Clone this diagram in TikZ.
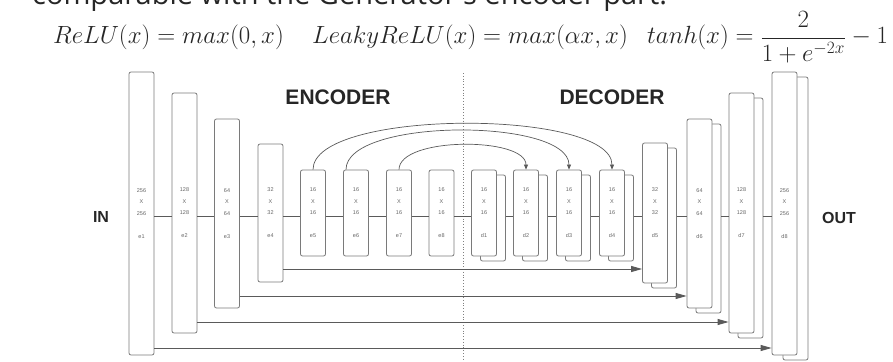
\documentclass[tikz,border=0pt]{standalone}
\usepackage{fontspec}
\setsansfont{Liberation Sans}
\newfontfamily\hdrfont{Open Sans}
\usetikzlibrary{arrows.meta,calc}
\definecolor{boxgray}{HTML}{7A7A7A}
\definecolor{linegray}{HTML}{5A5A5A}
\definecolor{txtgray}{HTML}{666666}
\tikzset{
  blk/.style={draw=boxgray, line width=0.8pt, rounded corners=2pt, fill=white,
    minimum width=25pt, inner sep=0pt, align=center,
    font=\sffamily\fontsize{5.5}{11.5}\selectfont, text=txtgray},
  shadowblk/.style={draw=boxgray, line width=0.8pt, rounded corners=2pt, fill=white,
    minimum width=25pt, inner sep=0pt},
  chainln/.style={draw=linegray, line width=0.8pt},
  skipln/.style={draw=linegray, line width=0.9pt, -{Triangle[length=11pt,width=6pt]}},
  arcln/.style={draw=linegray, line width=0.7pt, -{Triangle[length=5pt,width=4pt]}},
  ttl/.style={font=\sffamily\bfseries\fontsize{21}{21}\selectfont, text=black!85, inner sep=0pt},
  iolbl/.style={font=\sffamily\bfseries\fontsize{16}{16}\selectfont, text=black!85, inner sep=0pt},
  fml/.style={anchor=base west, inner sep=0pt, font=\fontsize{25}{25}\selectfont, text=black!85},
}
\begin{document}
\begin{tikzpicture}[x=1pt,y=-1pt]
\useasboundingbox (0,0) rectangle (893,361);
\clip (0,0) rectangle (893,361);
% header text (cut at the top)
\node[anchor=base west, inner sep=0pt, font=\hdrfont\fontsize{29}{29}\selectfont, text=black!85] (hdr) at (32,5) {comparable with the Generator's encoder part.};
% formulas
\node[fml] (f1) at (53,44) {$ReLU(x)=max(0,x)$};
\node[fml] (f2) at (312,44) {$LeakyReLU(x)=max(\alpha x,x)$};
\node[fml] (f3) at (647,44) {$\displaystyle tanh(x)=\frac{2}{1+e^{-2x}}-1$};
% dotted divider
\draw[dotted, line width=0.8pt, draw=gray] (463,73) -- (463,361);
% titles
\node[ttl] (enc) at (338,97) {ENCODER};
\node[ttl] (dec) at (612,97) {DECODER};
\node[iolbl] (in) at (101,217) {IN};
\node[iolbl] (out) at (839,218) {OUT};
% encoder blocks
\node[blk, minimum height=283pt] (e1) at (141.5,213.5) {256\\X\\256\\[11.5pt]e1};
\node[blk, minimum height=240pt] (e2) at (184.5,213) {128\\X\\128\\[11.5pt]e2};
\node[blk, minimum height=189pt] (e3) at (227,213.5) {64\\X\\64\\[11.5pt]e3};
\node[blk, minimum height=138pt] (e4) at (270.5,213) {32\\X\\32\\[11.5pt]e4};
\node[blk, minimum height=86pt] (e5) at (313,213) {16\\X\\16\\[11.5pt]e5};
\node[blk, minimum height=86pt] (e6) at (356,213) {16\\X\\16\\[11.5pt]e6};
\node[blk, minimum height=86pt] (e7) at (399,213) {16\\X\\16\\[11.5pt]e7};
\node[blk, minimum height=86pt] (e8) at (441.5,213) {16\\X\\16\\[11.5pt]e8};
% decoder blocks (shadow then front)
\node[shadowblk, minimum height=86pt] (d1s) at (493,218) {};
\node[blk, minimum height=86pt] (d1) at (484,213) {16\\X\\16\\[11.5pt]d1};
\node[shadowblk, minimum height=86pt] (d2s) at (535,218) {};
\node[blk, minimum height=86pt] (d2) at (526,213) {16\\X\\16\\[11.5pt]d2};
\node[shadowblk, minimum height=86pt] (d3s) at (578,218) {};
\node[blk, minimum height=86pt] (d3) at (569,213) {16\\X\\16\\[11.5pt]d3};
\node[shadowblk, minimum height=86pt] (d4s) at (621,218) {};
\node[blk, minimum height=86pt] (d4) at (612,213) {16\\X\\16\\[11.5pt]d4};
\node[shadowblk, minimum height=140pt] (d5s) at (664,218) {};
\node[blk, minimum height=140pt] (d5) at (655,213) {32\\X\\32\\[11.5pt]d5};
\node[shadowblk, minimum height=189pt] (d6s) at (708.5,218.5) {};
\node[blk, minimum height=189pt] (d6) at (699.5,213.5) {64\\X\\64\\[11.5pt]d6};
\node[shadowblk, minimum height=240pt] (d7s) at (750.5,218) {};
\node[blk, minimum height=240pt] (d7) at (741.5,213) {128\\X\\128\\[11.5pt]d7};
\node[shadowblk, minimum height=283pt] (d8s) at (795.5,218.5) {};
\node[blk, minimum height=283pt] (d8) at (784.5,213.5) {256\\X\\256\\[11.5pt]d8};
% chain connectors
\coordinate (cy) at (0,216);
\draw[chainln] (e1.east |- cy) -- (e2.west |- cy);
\draw[chainln] (e2.east |- cy) -- (e3.west |- cy);
\draw[chainln] (e3.east |- cy) -- (e4.west |- cy);
\draw[chainln] (e4.east |- cy) -- (e5.west |- cy);
\draw[chainln] (e5.east |- cy) -- (e6.west |- cy);
\draw[chainln] (e6.east |- cy) -- (e7.west |- cy);
\draw[chainln] (e7.east |- cy) -- (e8.west |- cy);
\draw[chainln] (e8.east |- cy) -- (d1.west |- cy);
\draw[chainln] (d1s.east |- cy) -- (d2.west |- cy);
\draw[chainln] (d2s.east |- cy) -- (d3.west |- cy);
\draw[chainln] (d3s.east |- cy) -- (d4.west |- cy);
\draw[chainln] (d4s.east |- cy) -- (d5.west |- cy);
\draw[chainln] (d5s.east |- cy) -- (d6.west |- cy);
\draw[chainln] (d6s.east |- cy) -- (d7.west |- cy);
\draw[chainln] (d7s.east |- cy) -- (d8.west |- cy);
% skip connections below
\coordinate (s4) at (0,269);
\coordinate (s3) at (0,296);
\coordinate (s2) at (0,322);
\coordinate (s1) at (0,348);
\draw[skipln] (e4.east |- s4) -- (d5.west |- s4);
\draw[skipln] (e3.east |- s3) -- (d6.west |- s3);
\draw[skipln] (e2.east |- s2) -- (d7.west |- s2);
\draw[skipln] (e1.east |- s1) -- (d8.west |- s1);
% skip arcs above
\draw[arcln] (e5.north) .. controls ($(e5.north)+(0,-61)$) and ($(d4.north)+(0,-61)$) .. (d4.north);
\draw[arcln] ($(e6.north)+(-10,0)$) .. controls ($(e6.north)+(-10,-52)$) and ($(d3.north)+(0,-52)$) .. (d3.north);
\draw[arcln] (e7.north) .. controls ($(e7.north)+(0,-33)$) and ($(d2.north)+(0,-33)$) .. (d2.north);
\end{tikzpicture}
\end{document}
